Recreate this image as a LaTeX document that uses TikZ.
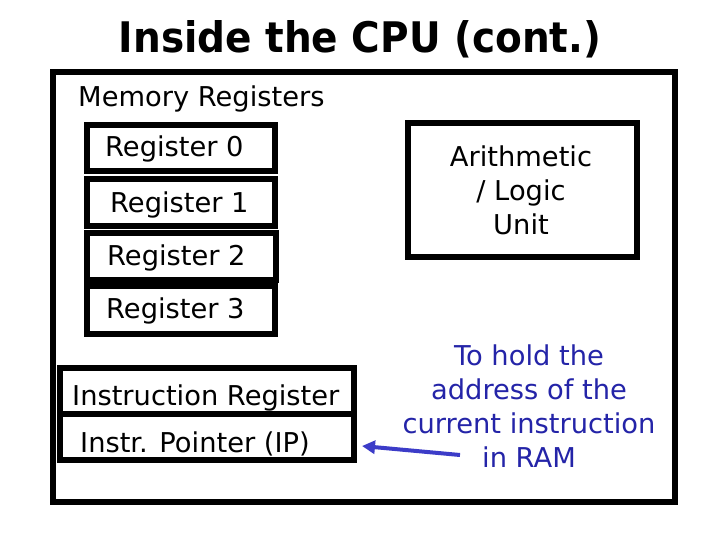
\documentclass[tikz,border=0pt]{standalone}
\usepackage{fontspec}
\setmainfont{DejaVu Sans}
\usetikzlibrary{arrows.meta}
\definecolor{notecol}{RGB}{36,36,168}
\definecolor{arrowcol}{RGB}{60,60,200}
\tikzset{
  box/.style={draw=black, line width=6pt, fill=white, inner sep=0pt},
  txt/.style={font=\fontsize{27.3}{34}\selectfont, inner sep=0pt, anchor=base west},
  ctxt/.style={font=\fontsize{27.3}{34}\selectfont, inner sep=0pt, align=center},
}
\begin{document}
\begin{tikzpicture}[x=1pt,y=-1pt]
\useasboundingbox (0,0) rectangle (720,540);
\fill[white] (0,0) rectangle (720,540);
% title
\node[font=\fontsize{39}{44}\selectfont\bfseries, inner sep=0pt, anchor=base] (title) at (360,53) {\scalebox{1}[1.08]{Inside the CPU (cont.)}};
% outer frame
\node[box, minimum width=622pt, minimum height=430pt] (cpu) at (364,287) {};
\node[txt] (memlbl) at (78,107) {Memory Registers};
% registers
\node[box, minimum width=188.5pt, minimum height=46.3pt] (r0) at (180.75,148) {};
\node[box, minimum width=188.5pt, minimum height=47.3pt] (r1) at (180.75,202.3) {};
\node[box, minimum width=189.5pt, minimum height=47pt] (r2) at (181.25,256.5) {};
\node[box, minimum width=188.5pt, minimum height=48pt] (r3) at (180.75,310) {};
\node[txt] (r0t) at (105,157) {Register 0};
\node[txt] (r1t) at (110,212) {Register 1};
\node[txt] (r2t) at (107,265) {Register 2};
\node[txt] (r3t) at (106,318) {Register 3};
% IR / IP
\node[box, minimum width=294pt, minimum height=46pt] (ir) at (207,391) {};
\node[box, minimum width=294pt, minimum height=46pt] (ip) at (207,437) {};
\node[txt] (irt) at (72,405) {Instruction Register};
\node[txt] (ipt) at (80,452) {Instr. Pointer (IP)};
% ALU
\node[box, minimum width=229pt, minimum height=134pt] (alu) at (522.5,190) {};
\node[ctxt] (alut) at (521,190.5) {Arithmetic\\/ Logic\\Unit};
% note
\node[ctxt, text=notecol] (note) at (529,406) {To hold the\\address of the\\current instruction\\in RAM};
% arrow
\coordinate (tail) at (460,455);
\coordinate (tip) at (362,446);
\draw[arrowcol, line width=4pt, -{Triangle[length=13pt,width=13pt]}] (tail) -- (tip);
\end{tikzpicture}
\end{document}
